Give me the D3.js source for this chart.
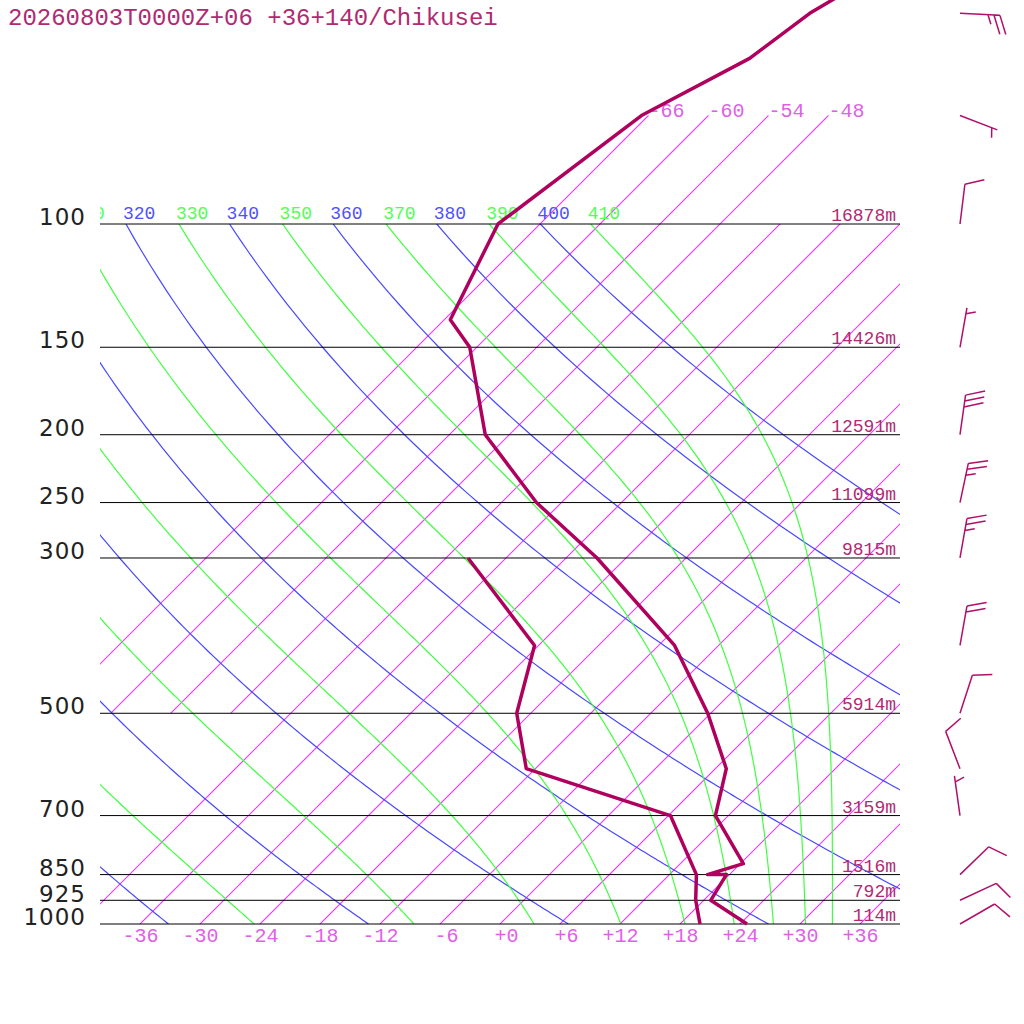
<!DOCTYPE html>
<meta charset="UTF-8">
<style>
    body { margin: 0; background: #fff; }
</style>
<body>
<script src="https://d3js.org/d3.v7.min.js"></script>
<script>

// ---- sounding data ----
var title = "20260803T0000Z+06 +36+140/Chikusei";

// temperature trace (drawing order, hPa / degC)
var tempP = [1000, 925, 850, 850, 820, 700, 600, 500, 400, 300, 250, 200, 150, 137, 100, 70, 58, 50, 40];
var tempT = [24.7, 18.7, 17.7, 15.8, 18.3, 10.7, 7.1, -0.3, -10.4, -26.9, -38.5, -50.4, -60.7, -65.4, -70.2, -66.7, -61.6, -60.1, -55.4];

// dewpoint trace
var dewP = [1000, 925, 850, 700, 600, 500, 400, 300];
var dewT = [20.0, 17.2, 14.7, 6.2, -12.9, -19.4, -24.4, -39.8];

// winds (direction from, knots)
var windP   = [1000, 925, 850, 700, 600, 500, 400, 300, 250, 200, 150, 100, 70, 50];
var windDir = [60, 65, 46, 352, 339, 18, 10, 10, 12, 8, 10, 7, 111, 93];
var windSpd = [10, 10, 10, 5, 10, 10, 20, 25, 25, 30, 5, 10, 5, 25];

// labelled pressure levels and their heights
var levels  = [100, 150, 200, 250, 300, 500, 700, 850, 925, 1000];
var heights = ["16878m", "14426m", "12591m", "11099m", "9815m", "5914m", "3159m", "1516m", "792m", "114m"];

// background lines
var tempTicks   = [-36, -30, -24, -18, -12, -6, 0, 6, 12, 18, 24, 30, 36];
var isoMain     = [-42, -36, -30, -24, -18, -12, -6, 0, 6, 12, 18, 24, 30, 36];
var isoUpper    = [-66, -60, -54, -48];
var dryThetas   = [240, 260, 280, 300, 320, 340, 360, 380, 400];
var moistThetas = [250, 270, 290, 310, 330, 350, 370, 390, 410];

// colours
var cIso = "#e83cff", cDry = "#4848ff", cMoist = "#40ff40";
var cTrace = "#b0005e", cText = "#b02a72", cIsoText = "#e060e8";

// ---- layout ----
var box = {left: 100, right: 900, top: 224, bottom: 924};

var y  = d3.scaleLog().domain([1000, 100]).range([box.bottom, box.top]);
var xT = d3.scaleLinear().domain([-40, 40]).range([box.left, box.right]);

// skewed x: isotherms lean at 45 degrees
function sx(t, p) { return xT(t) + (box.bottom - y(p)); }

var svg = d3.select("body").append("svg")
    .attr("width", 1024)
    .attr("height", 1024);

var defs = svg.append("defs");
defs.append("clipPath").attr("id", "clipBox")
  .append("rect").attr("x", box.left).attr("y", box.top)
    .attr("width", box.right - box.left).attr("height", box.bottom - box.top);
defs.append("clipPath").attr("id", "clipX")
  .append("rect").attr("x", box.left).attr("y", 0)
    .attr("width", box.right - box.left).attr("height", box.bottom);

var line = d3.line()
    .x(function(d) { return sx(d.t, d.p); })
    .y(function(d) { return y(d.p); });

// pressure steps used to draw curved lines
var steps = d3.range(1000, 99, -5);

// ---- isotherms (thin filled bands, about 1px across) ----
var isoBand = d3.area()
    .x0(function(d) { return sx(d.t, d.p) - 0.8; })
    .x1(function(d) { return sx(d.t, d.p) + 0.8; })
    .y(function(d) { return y(d.p); });

var gIso = svg.append("g").attr("clip-path", "url(#clipX)");
isoMain.forEach(function(t) {
    gIso.append("path").style("fill", cIso).style("stroke", "none")
        .attr("d", isoBand([{p: 1000, t: t}, {p: 100, t: t}]));
});
isoUpper.forEach(function(t) {
    gIso.append("path").style("fill", cIso).style("stroke", "none")
        .attr("d", isoBand([{p: 500, t: t}, {p: 70, t: t}]));
});

// ---- dry adiabats ----
function dryT(theta, p) { return theta * Math.pow(p / 1000, 0.2857) - 273.15; }

// ---- pseudo adiabats (Bolton theta-e) ----
function thetaE(tk, p) {
    var tc = tk - 273.15;
    var es = 6.112 * Math.exp(17.67 * tc / (tc + 243.5));
    if (es > 0.5 * p) return 1e9;
    var r = 622 * es / (p - es);
    return tk * Math.pow(1000 / p, 0.2854 * (1 - 0.00028 * r)) *
        Math.exp((3.376 / tk - 0.00254) * r * (1 + 0.00081 * r));
}
function moistT(the, p) {
    var lo = 150, hi = 340;
    for (var i = 0; i < 50; i++) {
        var mid = (lo + hi) / 2;
        if (thetaE(mid, p) > the) hi = mid; else lo = mid;
    }
    return (lo + hi) / 2 - 273.15;
}

var gAd = svg.append("g").attr("clip-path", "url(#clipBox)");
dryThetas.forEach(function(th) {
    gAd.append("path")
        .style("fill", "none").style("stroke", cDry).style("stroke-width", "1.2px")
        .attr("d", line(steps.map(function(p) { return {p: p, t: dryT(th, p)}; })));
});
moistThetas.forEach(function(th) {
    gAd.append("path")
        .style("fill", "none").style("stroke", cMoist).style("stroke-width", "1.2px")
        .attr("d", line(steps.map(function(p) { return {p: p, t: moistT(th, p)}; })));
});

// theta labels along the 100 hPa line; only the part right of the box edge shows
var gTh = svg.append("g").attr("clip-path", "url(#clipX)")
    .attr("font-family", "Liberation Mono, monospace")
    .attr("font-size", 18);
function thetaLabel(th, t, colour) {
    var s = String(th), lx = sx(t, 100) - 3, cw = 10.8;
    while (s.length && lx + cw < box.left) { s = s.slice(1); lx += cw; }
    if (!s.length) return;
    gTh.append("text").attr("x", lx).attr("y", 218.5)
        .attr("fill", colour).text(s);
}
dryThetas.forEach(function(th) { thetaLabel(th, dryT(th, 100), "#5050ff"); });
moistThetas.forEach(function(th) { thetaLabel(th, moistT(th, 100), "#50ff50"); });

// upper isotherm labels
isoUpper.forEach(function(t) {
    svg.append("text")
        .attr("x", sx(t, 70)).attr("y", y(70) + 1)
        .attr("font-family", "Liberation Mono, monospace")
        .attr("font-size", 20)
        .attr("fill", cIsoText)
        .text("-" + Math.abs(t));
});

// ---- pressure lines ----
svg.selectAll(".plev")
    .data(levels)
  .enter().append("line")
    .attr("class", "plev")
    .style("stroke", "#000")
    .style("stroke-width", "1px")
    .attr("x1", box.left).attr("x2", box.right)
    .attr("y1", function(d) { return y(d); })
    .attr("y2", function(d) { return y(d); });

// heights
svg.selectAll(".hgt")
    .data(levels)
  .enter().append("text")
    .attr("class", "hgt")
    .attr("x", 896)
    .attr("y", function(d) { return y(d) - 3; })
    .attr("text-anchor", "end")
    .attr("font-family", "Liberation Mono, monospace")
    .attr("font-size", 18)
    .attr("fill", cText)
    .text(function(d, i) { return heights[i]; });

// pressure axis
var gP = svg.append("g")
    .attr("transform", "translate(" + box.left + ",0)")
    .call(d3.axisLeft(y).tickValues(levels).tickFormat(d3.format("d")).tickSize(0).tickPadding(14));
gP.select(".domain").remove();
gP.selectAll("text")
    .attr("dy", "0.03em")
    .attr("font-family", "DejaVu Sans, sans-serif")
    .attr("font-size", 23)
    .attr("letter-spacing", "1px")
    .attr("fill", "#222");

// temperature axis
var gT = svg.append("g")
    .attr("transform", "translate(0," + box.bottom + ")")
    .call(d3.axisBottom(xT).tickValues(tempTicks).tickSize(0).tickPadding(4)
        .tickFormat(function(d) { return (d < 0 ? "-" : "+") + Math.abs(d); }));
gT.select(".domain").remove();
gT.selectAll("text")
    .attr("text-anchor", "end")
    .attr("dx", 18)
    .attr("font-family", "Liberation Mono, monospace")
    .attr("font-size", 20)
    .attr("fill", cIsoText);

// ---- traces ----
function trace(ps, ts) {
    svg.append("path")
        .style("fill", "none")
        .style("stroke", cTrace)
        .style("stroke-width", "3.5px")
        .style("stroke-linejoin", "round")
        .attr("d", line(ps.map(function(p, i) { return {p: p, t: ts[i]}; })));
}
trace(dewP, dewT);
trace(tempP, tempT);

// ---- wind barbs ----
function barbPath(p, dir, spd) {
    var bx = 960, by = y(p);
    var a = dir * Math.PI / 180;
    var ux = Math.sin(a), uy = -Math.cos(a);
    var tx = bx + 40 * ux, ty = by + 40 * uy;
    var c = Math.cos(70 * Math.PI / 180), s = Math.sin(70 * Math.PI / 180);
    var fx = ux * c - uy * s, fy = ux * s + uy * c;
    var path = d3.path();
    path.moveTo(bx, by);
    path.lineTo(tx, ty);
    var full = Math.floor(spd / 10), half = (spd % 10) >= 5 ? 1 : 0;
    var k = full === 0 ? 1 : 0;
    for (var i = 0; i < full; i++, k++) {
        var px = tx - k * 6 * ux, py = ty - k * 6 * uy;
        path.moveTo(px, py);
        path.lineTo(px + 20 * fx, py + 20 * fy);
    }
    if (half) {
        var hx = tx - k * 6 * ux, hy = ty - k * 6 * uy;
        path.moveTo(hx, hy);
        path.lineTo(hx + 10 * fx, hy + 10 * fy);
    }
    return path.toString();
}
windP.forEach(function(p, i) {
    svg.append("path")
        .style("fill", "none")
        .style("stroke", "#b0106a")
        .style("stroke-width", "1.5px")
        .attr("d", barbPath(p, windDir[i], windSpd[i]));
});

// title
svg.append("text")
    .attr("x", 8).attr("y", 25)
    .attr("font-family", "Liberation Mono, monospace")
    .attr("font-size", 24)
    .attr("fill", cText)
    .text(title);

</script>
</body>
